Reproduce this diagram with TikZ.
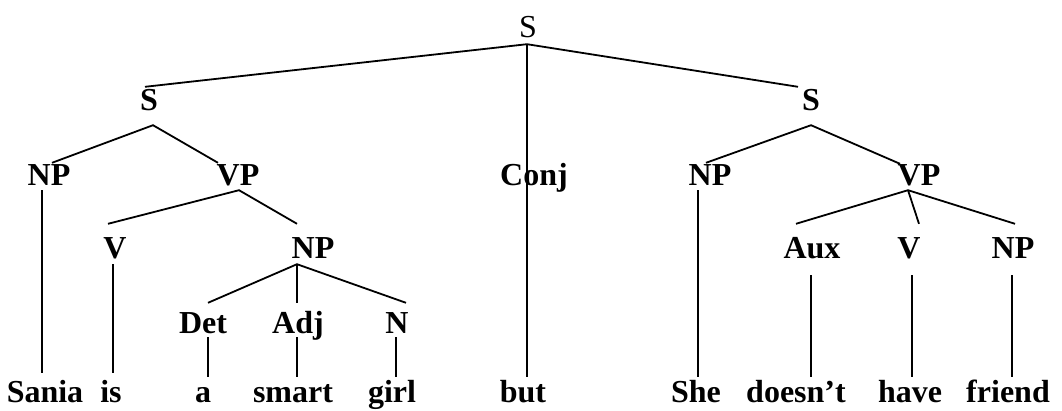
\documentclass[tikz,border=0pt]{standalone}
\usepackage{fontspec}
\setmainfont{Liberation Serif}
\begin{document}
\begin{tikzpicture}[x=1pt,y=-1pt,
  lab/.style={inner sep=0pt, text height=21pt, text depth=0pt, anchor=base,
              font=\fontsize{32pt}{38pt}\selectfont\bfseries},
  root/.style={lab, font=\fontsize{32pt}{38pt}\selectfont},
  branch/.style={line width=1.8pt, line cap=butt}]
\useasboundingbox (0,0) rectangle (1062,410);

% row 1
\node[root] (s0) at (528,37) {S};
% row 2
\node[lab] (sL) at (149,110) {S};
\node[lab] (sR) at (811,110) {S};
% row 3
\node[lab] (np1) at (49,185) {NP};
\node[lab] (vp1) at (238,185) {VP};
\node[lab] (conj) at (534,185) {Conj};
\node[lab] (np2) at (710,185) {NP};
\node[lab] (vp2) at (919,185) {VP};
% row 4
\node[lab] (v1) at (115,258) {V};
\node[lab] (np1b) at (313,258) {NP};
\node[lab] (aux) at (812,258) {Aux};
\node[lab] (v2) at (909,258) {V};
\node[lab] (np3) at (1013,258) {NP};
% row 5
\node[lab] (det) at (203,333) {Det};
\node[lab] (adj) at (298,333) {Adj};
\node[lab] (n) at (397,333) {N};
% words
\node[lab] (sania) at (45,402) {Sania};
\node[lab] (is) at (111,402) {is};
\node[lab] (a) at (203,402) {a};
\node[lab] (smart) at (293,402) {smart};
\node[lab] (girl) at (392,402) {girl};
\node[lab] (but) at (523,402) {but};
\node[lab] (she) at (696,402) {She};
\node[lab] (doesnt) at (796,402) {doesn’t};
\node[lab] (have) at (910,402) {have};
\node[lab] (friend) at (1008,402) {friend};

% top sentence
\draw[branch] ([xshift=-4pt,yshift=2pt]sL.north) -- ([xshift=-1pt,yshift=-7pt]s0.south)
  -- ([xshift=-13pt,yshift=2pt]sR.north);
\draw[branch] ([xshift=-1pt,yshift=-7pt]s0.south) -- ([xshift=4pt,yshift=4pt]but.north);

% left clause
\draw[branch] ([xshift=3pt,yshift=1pt]np1.north) -- ([xshift=4pt,yshift=-15pt]sL.south)
  -- ([xshift=-20pt,yshift=1pt]vp1.north);
\draw[branch] ([xshift=-7pt,yshift=-5pt]np1.south) -- ([xshift=-3pt,yshift=8pt]sania.north);
\draw[branch] ([xshift=-7pt,yshift=13pt]v1.north) -- ([xshift=1pt,yshift=-5pt]vp1.south)
  -- ([xshift=-16pt,yshift=13pt]np1b.north);
\draw[branch] ([xshift=-2pt,yshift=-6pt]v1.south) -- ([xshift=2pt,yshift=8pt]is.north);
\draw[branch] ([xshift=5pt,yshift=9pt]det.north) -- ([xshift=-16pt,yshift=-6pt]np1b.south)
  -- ([xshift=9pt,yshift=9pt]n.north);
\draw[branch] ([xshift=-16pt,yshift=-6pt]np1b.south) -- ([xshift=-1pt,yshift=9pt]adj.north);
\draw[branch] ([xshift=5pt,yshift=-4pt]det.south) -- ([xshift=5pt,yshift=4pt]a.north);
\draw[branch] ([xshift=-1pt,yshift=-4pt]adj.south) -- ([xshift=4pt,yshift=4pt]smart.north);
\draw[branch] ([xshift=-1pt,yshift=-4pt]n.south) -- ([xshift=4pt,yshift=4pt]girl.north);

% right clause
\draw[branch] ([xshift=-4pt,yshift=1pt]np2.north) -- ([xshift=0pt,yshift=-15pt]sR.south)
  -- ([xshift=-19pt,yshift=0pt]vp2.north);
\draw[branch] ([xshift=-12pt,yshift=-5pt]np2.south) -- ([xshift=2pt,yshift=4pt]she.north);
\draw[branch] ([xshift=-16pt,yshift=13pt]aux.north) -- ([xshift=-11pt,yshift=-5pt]vp2.south)
  -- ([xshift=2pt,yshift=13pt]np3.north);
\draw[branch] ([xshift=-11pt,yshift=-5pt]vp2.south) -- ([xshift=10pt,yshift=13pt]v2.north);
\draw[branch] ([xshift=-1pt,yshift=-17pt]aux.south) -- ([xshift=15pt,yshift=4pt]doesnt.north);
\draw[branch] ([xshift=3pt,yshift=-17pt]v2.south) -- ([xshift=2pt,yshift=4pt]have.north);
\draw[branch] ([xshift=-1pt,yshift=-17pt]np3.south) -- ([xshift=4pt,yshift=4pt]friend.north);
\end{tikzpicture}
\end{document}
